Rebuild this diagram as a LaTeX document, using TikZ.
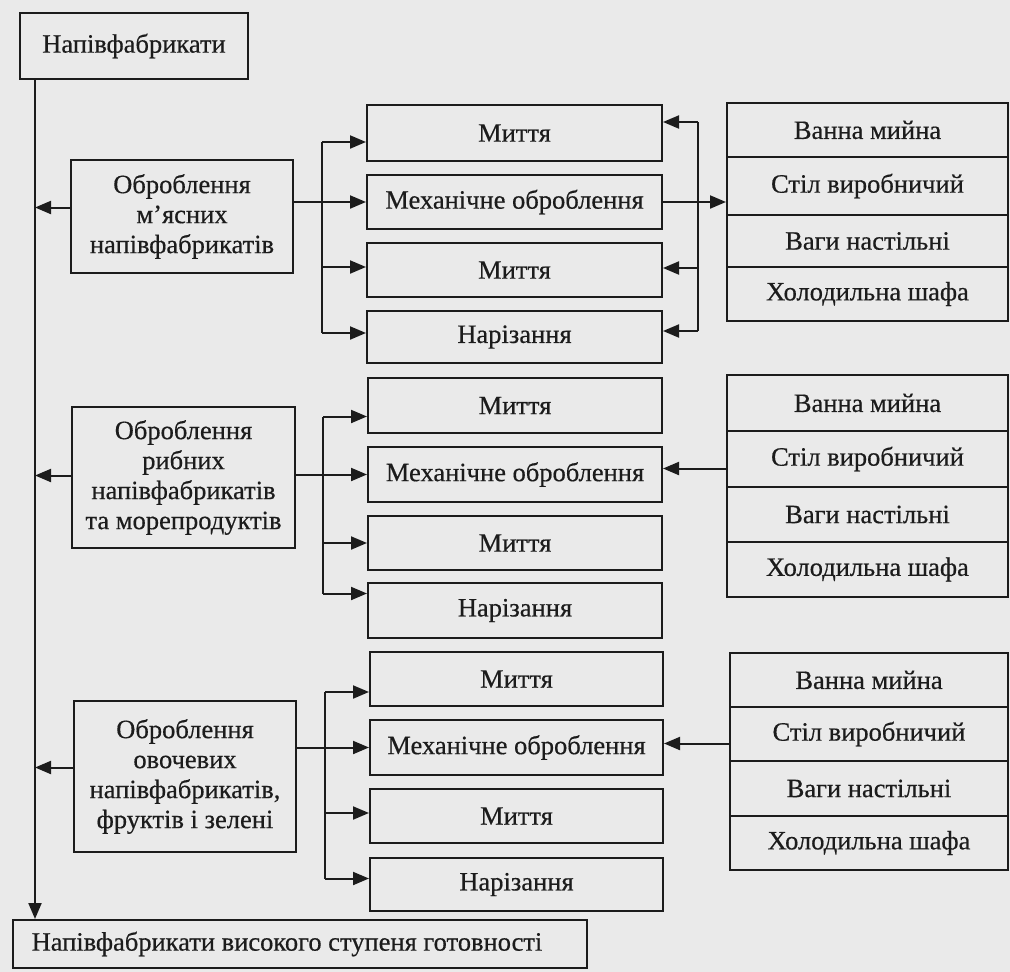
\documentclass[tikz,border=0pt]{standalone}
\usepackage{fontspec}
\setmainfont{Liberation Serif}[FakeBold=0.5]
\usetikzlibrary{arrows.meta}
\definecolor{paper}{RGB}{234,234,234}
\definecolor{ink}{RGB}{28,28,28}
\newcommand\boxnode[6]{%
  \pgfmathsetmacro\bxw{#4-#2}\pgfmathsetmacro\bxh{#5-#3}%
  \pgfmathsetmacro\bxx{(#2+#4)/2}\pgfmathsetmacro\bxy{(#3+#5)/2}%
  \node[box, minimum width=\bxw pt, minimum height=\bxh pt] (#1) at (\bxx,\bxy) {#6};}
\begin{document}
\begin{tikzpicture}[x=1pt,y=-1pt,
  box/.style={draw=ink, line width=2pt, inner sep=0pt, align=center, text=ink,
    font=\fontsize{26.5}{30}\selectfont},
  arr/.style={draw=ink, line width=2pt, -{Triangle[length=16pt,width=13pt]}},
  ln/.style={draw=ink, line width=2pt}]
\fill[paper] (0,0) rectangle (1010,972);
\useasboundingbox (0,0) rectangle (1010,972);
% left column
\boxnode{top}{20}{13}{248}{79}{Напівфабрикати}
\boxnode{g1}{71}{160}{293}{273}{Оброблення\\м’ясних\\напівфабрикатів}
\boxnode{g2}{72}{407}{295}{548}{Оброблення\\рибних\\напівфабрикатів\\та морепродуктів}
\boxnode{g3}{74}{701}{296}{852}{Оброблення\\овочевих\\напівфабрикатів,\\фруктів і зелені}
\boxnode{bot}{13}{920}{587}{968}{Напівфабрикати високого ступеня готовності\kern26pt}
% middle column
\boxnode{m1a}{367}{105}{662}{161}{Миття}
\boxnode{m1b}{367}{175}{662}{229}{Механічне оброблення}
\boxnode{m1c}{367}{243}{662}{297}{Миття}
\boxnode{m1d}{367}{311}{662}{363}{Нарізання}
\boxnode{m2a}{368}{378}{662}{433}{Миття}
\boxnode{m2b}{368}{447}{662}{502}{Механічне оброблення}
\boxnode{m2c}{368}{516}{662}{570}{Миття}
\boxnode{m2d}{368}{583}{662}{638}{Нарізання}
\boxnode{m3a}{370}{652}{663}{706}{Миття}
\boxnode{m3b}{370}{720}{663}{775}{Механічне оброблення}
\boxnode{m3c}{370}{789}{663}{843}{Миття}
\boxnode{m3d}{370}{858}{663}{911}{Нарізання}
% right column
\boxnode{r1a}{727}{103}{1008}{157}{Ванна мийна}
\boxnode{r1b}{727}{157}{1008}{215}{Стіл виробничий}
\boxnode{r1c}{727}{215}{1008}{267}{Ваги настільні}
\boxnode{r1d}{727}{267}{1008}{321}{Холодильна шафа}
\boxnode{r2a}{727}{375}{1008}{431}{Ванна мийна}
\boxnode{r2b}{727}{431}{1008}{487}{Стіл виробничий}
\boxnode{r2c}{727}{487}{1008}{542}{Ваги настільні}
\boxnode{r2d}{727}{542}{1008}{597}{Холодильна шафа}
\boxnode{r3a}{730}{653}{1008}{707}{Ванна мийна}
\boxnode{r3b}{730}{707}{1008}{761}{Стіл виробничий}
\boxnode{r3c}{730}{761}{1008}{816}{Ваги настільні}
\boxnode{r3d}{730}{816}{1008}{870}{Холодильна шафа}
% trunk coordinates
\coordinate (sp) at (35,0);
\coordinate (t1) at (322,0);
\coordinate (t2) at (323,0);
\coordinate (t3) at (325,0);
\coordinate (q1) at (698,0);
% spine
\draw[arr] (top.south -| sp) -- (bot.north -| sp);
\foreach \n/\s in {g1/9,g2/2,g3/9}
  \draw[arr] ([yshift=\s pt]\n.west) -- ([yshift=\s pt]\n.west -| sp);
% group 1 fan
\draw[arr] (g1.east |- m1b.west) -- (m1b.west);
\draw[ln] ([yshift=-9pt]t1 |- m1a.west) -- ([yshift=4pt]t1 |- m1d.west);
\foreach \n/\s in {m1a/-9,m1c/3,m1d/4}
  \draw[arr] ([yshift=\s pt]t1 |- \n.west) -- ([yshift=\s pt]\n.west);
% group 2 fan
\draw[arr] (g2.east |- m2b.west) -- (m2b.west);
\draw[ln] ([yshift=-11pt]t2 |- m2a.west) -- ([yshift=17pt]t2 |- m2d.west);
\foreach \n/\s in {m2a/-11,m2c/0,m2d/17}
  \draw[arr] ([yshift=\s pt]t2 |- \n.west) -- ([yshift=\s pt]\n.west);
% group 3 fan
\draw[arr] (g3.east |- m3b.west) -- (m3b.west);
\draw[ln] ([yshift=-13pt]t3 |- m3a.west) -- ([yshift=6pt]t3 |- m3d.west);
\foreach \n/\s in {m3a/-13,m3c/3,m3d/6}
  \draw[arr] ([yshift=\s pt]t3 |- \n.west) -- ([yshift=\s pt]\n.west);
% right side links
\draw[arr] (m1b.east) -- (m1b.east -| r1b.west);
\draw[ln] ([yshift=11pt]q1 |- m1a.east) -- ([yshift=6pt]q1 |- m1d.east);
\foreach \n/\s in {m1a/11,m1c/2,m1d/6}
  \draw[arr] ([yshift=\s pt]q1 |- \n.east) -- ([yshift=\s pt]\n.east);
\draw[arr] ([yshift=6pt]m2b.east -| r2b.west) -- ([yshift=6pt]m2b.east);
\draw[arr] ([yshift=4pt]m3b.east -| r3b.west) -- ([yshift=4pt]m3b.east);
\end{tikzpicture}
\end{document}
